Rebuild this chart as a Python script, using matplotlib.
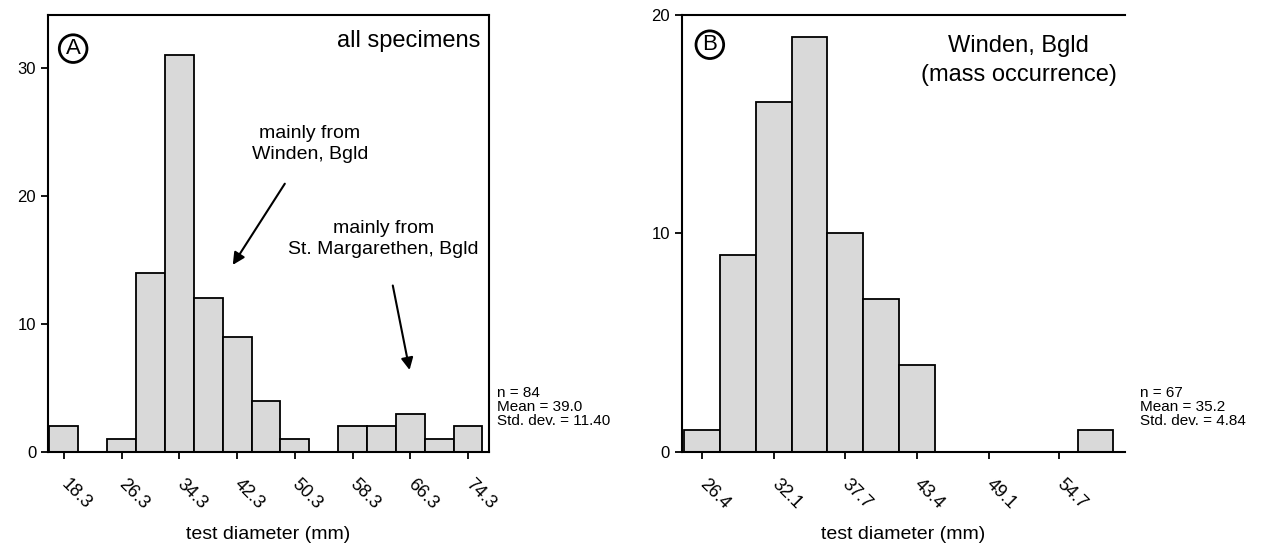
import matplotlib.pyplot as plt
from matplotlib.transforms import ScaledTranslation

plt.rcParams['font.family'] = ['Liberation Sans', 'DejaVu Sans']

# panel A - all specimens
a_centers = [18.3, 22.3, 26.3, 30.3, 34.3, 38.3, 42.3, 46.3, 50.3, 54.3, 58.3, 62.3, 66.3, 70.3, 74.3]
a_counts = [2, 0, 1, 14, 31, 12, 9, 4, 1, 0, 2, 2, 3, 1, 2]
a_ticks = [18.3, 26.3, 34.3, 42.3, 50.3, 58.3, 66.3, 74.3]
a_stats = "n = 84\nMean = 39.0\nStd. dev. = 11.40"

# panel B - Winden, Bgld
b_centers = [26.4, 29.25, 32.1, 34.9, 37.7, 40.55, 43.4, 46.25, 49.1, 51.9, 54.7, 57.55]
b_counts = [1, 9, 16, 19, 10, 7, 4, 0, 0, 0, 0, 1]
b_ticks = [26.4, 32.1, 37.7, 43.4, 49.1, 54.7]
b_stats = "n = 67\nMean = 35.2\nStd. dev. = 4.84"

fig = plt.figure(figsize=(12.77, 5.49), dpi=100)
ax1 = fig.add_axes([0.0376, 0.1767, 0.3453, 0.796])
ax2 = fig.add_axes([0.534, 0.1767, 0.347, 0.796])

fill = '#d9d9d9'

ax1.bar(a_centers, a_counts, width=4.0, color=fill, edgecolor='black', linewidth=1.3)
ax1.set_xlim(16.1, 77.2)
ax1.set_ylim(0, 34.1)
ax1.set_yticks([0, 10, 20, 30])
ax1.set_xticks(a_ticks)
ax1.set_xticklabels([f"{t:.1f}" for t in a_ticks], rotation=-45, ha='left',
                    va='top', rotation_mode='anchor')

ax2.bar(b_centers, b_counts, width=2.83, color=fill, edgecolor='black', linewidth=1.3)
ax2.set_xlim(24.8, 59.9)
ax2.set_ylim(0, 20)
ax2.set_yticks([0, 10, 20])
ax2.set_xticks(b_ticks)
ax2.set_xticklabels([f"{t:.1f}" for t in b_ticks], rotation=-45, ha='left',
                    va='top', rotation_mode='anchor')
ax2.spines['right'].set_visible(False)

shift = ScaledTranslation(6 / 100, 0, fig.dpi_scale_trans)
for ax in (ax1, ax2):
    for s in ax.spines.values():
        s.set_linewidth(1.5)
    ax.tick_params(axis='both', direction='out', length=5, width=1.3, labelsize=12)
    ax.tick_params(axis='x', pad=12, labelsize=13)
    for lbl in ax.get_xticklabels():
        lbl.set_transform(lbl.get_transform() + shift)
    ax.set_xlabel("test diameter (mm)", fontsize=14, labelpad=10)

# panel letters
ax1.text(0.057, 0.923, "A", transform=ax1.transAxes, fontsize=16, ha='center', va='center',
         bbox=dict(boxstyle='circle,pad=0.15', fc='none', ec='black', lw=2.0))
ax2.text(0.063, 0.932, "B", transform=ax2.transAxes, fontsize=16, ha='center', va='center',
         bbox=dict(boxstyle='circle,pad=0.15', fc='none', ec='black', lw=2.0))

ax1.text(0.98, 0.94, "all specimens", transform=ax1.transAxes, fontsize=17,
         ha='right', va='center')
ax2.text(0.76, 0.895, "Winden, Bgld\n(mass occurrence)", transform=ax2.transAxes,
         fontsize=17, ha='center', va='center', linespacing=1.4)

# annotations
ax1.annotate("mainly from\nWinden, Bgld", xy=(41.7, 14.6), xytext=(52.4, 24.0),
             fontsize=14, ha='center', va='center', linespacing=1.3,
             arrowprops=dict(arrowstyle='-|>', color='black', lw=1.5,
                             mutation_scale=18, shrinkA=15, shrinkB=0))
ax1.annotate("mainly from\nSt. Margarethen, Bgld", xy=(66.2, 6.4), xytext=(62.6, 16.6),
             fontsize=14, ha='center', va='center', linespacing=1.3,
             arrowprops=dict(arrowstyle='-|>', color='black', lw=1.5,
                             mutation_scale=18, shrinkA=18, shrinkB=0))

# summary stats
fig.text(497 / 1277, 1 - 386 / 549, a_stats, fontsize=11, va='top', ha='left', linespacing=1.0)
fig.text(1140 / 1277, 1 - 386 / 549, b_stats, fontsize=11, va='top', ha='left', linespacing=1.0)

fig.savefig("out.png", dpi=100)
